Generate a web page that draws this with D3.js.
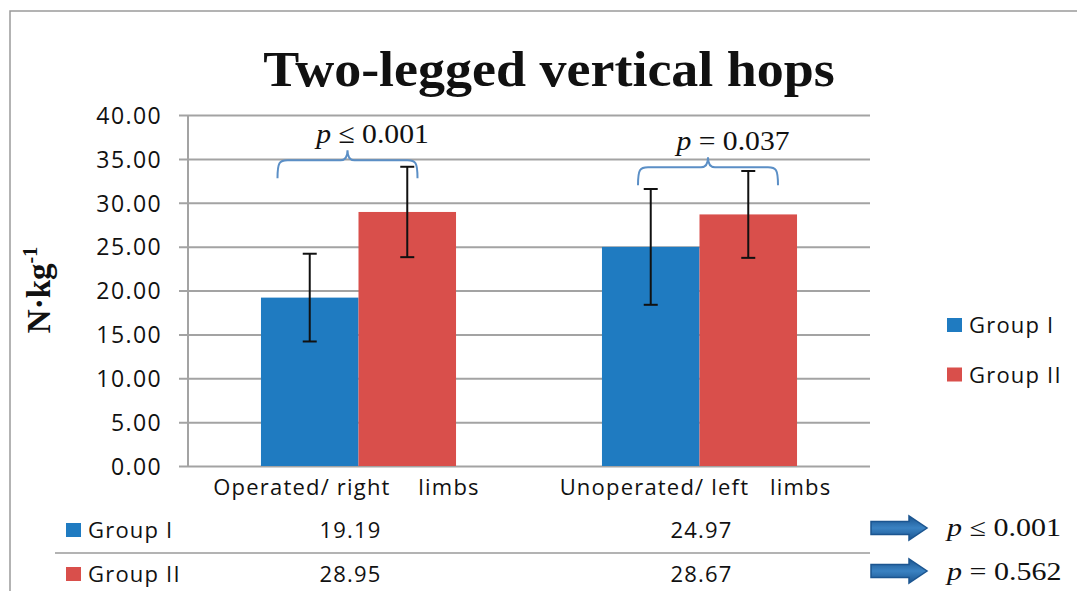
<!DOCTYPE html>
<html>
  <head>
    <meta charset="utf-8">
    <style type="text/css">
      body { margin: 0; background: #fff; }
      text { white-space: pre; }
      .sans { font-family: "Open Sans", sans-serif; font-size: 22px; letter-spacing: 1.2px; fill: #111; }
      .serif { font-family: "Liberation Serif", serif; fill: #111; }
    </style>
  </head>
  <body>
    <div id="chart"></div>

    <script type="text/javascript" src="https://cdn.jsdelivr.net/npm/d3@7/dist/d3.min.js"></script>
    <script type="text/javascript">
      // data
      var categories = ["Operated/ right    limbs", "Unoperated/ left   limbs"];
      var groups = ["Group I", "Group II"];
      var groupI = [19.19, 24.97];
      var groupII = [28.95, 28.67];
      var sdI = [5.0, 6.6];
      var sdII = [5.15, 4.95];
      var yTicks = [0, 5, 10, 15, 20, 25, 30, 35, 40];
      var pWithin = ["\u2264 0.001", "= 0.037"];   // group I vs II inside each limb
      var pBetween = ["\u2264 0.001", "= 0.562"];  // limb vs limb inside each group
      var colors = ["#1f7bc1", "#d94f4b"];

      (function () {
        var W = 1077, H = 591;
        var x0 = 188, x1 = 870, yTop = 115, yBot = 466;

        var svg = d3.select("#chart").append("svg")
          .attr("width", W).attr("height", H);

        var defs = svg.append("defs");
        var grad = defs.append("linearGradient").attr("id", "arrowGrad")
          .attr("x1", 0).attr("y1", 0).attr("x2", 0).attr("y2", 1);
        grad.append("stop").attr("offset", "0%").attr("stop-color", "#1b5590");
        grad.append("stop").attr("offset", "50%").attr("stop-color", "#3a82c2");
        grad.append("stop").attr("offset", "100%").attr("stop-color", "#1b5590");

        // outer frame
        svg.append("path").attr("d", "M10,591 L10,11 L1077,11")
          .attr("fill", "none").attr("stroke", "#9a9a9a").attr("stroke-width", 1.5);

        var x = d3.scaleBand().domain(categories).range([x0, x1]).padding(0);
        var xg = d3.scaleBand().domain(groups).range([0, x.bandwidth() * 0.572]);
        var y = d3.scaleLinear().domain([0, 40]).range([yBot, yTop]);

        var rows = categories.map(function (c, i) {
          return { cat: c, vals: [groupI[i], groupII[i]], sds: [sdI[i], sdII[i]] };
        });
        var barX = function (c, gi) {
          return x(c) + (x.bandwidth() - x.bandwidth() * 0.572) / 2 + xg(groups[gi]);
        };

        // gridlines + tick labels
        var axis = d3.axisLeft(y).tickValues(yTicks)
          .tickFormat(d3.format(".2f"))
          .tickSize(x1 - x0 + 9).tickSizeOuter(0).tickPadding(17);
        var ag = svg.append("g").attr("transform", "translate(" + x1 + ",0)").call(axis);
        ag.select(".domain").remove();
        ag.selectAll(".tick line").attr("stroke", "#a3a3a3").attr("stroke-width", 2);
        ag.selectAll(".tick text").attr("class", "sans").attr("dy", "0.36em")
          .style("font-size", "23px").style("letter-spacing", "1.4px").attr("fill", "#111");

        // y axis line
        svg.append("line").attr("x1", x0).attr("x2", x0).attr("y1", yTop).attr("y2", yBot)
          .attr("stroke", "#a3a3a3").attr("stroke-width", 2);

        // bars
        var bars = [];
        rows.forEach(function (r) {
          r.vals.forEach(function (v, gi) {
            bars.push({ cat: r.cat, gi: gi, v: v, sd: r.sds[gi] });
          });
        });
        svg.append("g").selectAll("rect").data(bars).enter().append("rect")
          .attr("x", function (d) { return barX(d.cat, d.gi); })
          .attr("width", xg.bandwidth())
          .attr("y", function (d) { return y(d.v); })
          .attr("height", function (d) { return y(0) - y(d.v); })
          .attr("fill", function (d) { return colors[d.gi]; });

        // error bars
        var eb = svg.append("g").attr("stroke", "#111").attr("stroke-width", 2);
        bars.forEach(function (d) {
          var cx = barX(d.cat, d.gi) + xg.bandwidth() / 2;
          eb.append("line").attr("x1", cx).attr("x2", cx)
            .attr("y1", y(d.v + d.sd)).attr("y2", y(d.v - d.sd));
          [d.v + d.sd, d.v - d.sd].forEach(function (e) {
            eb.append("line").attr("x1", cx - 7).attr("x2", cx + 7)
              .attr("y1", y(e)).attr("y2", y(e));
          });
        });

        // braces with p values
        var braceShift = [-11, 8.5], braceLevel = [34.85, 34.05];
        categories.forEach(function (c, i) {
          var mid = x(c) + x.bandwidth() / 2 + braceShift[i];
          var L = mid - 70, R = mid + 70;
          var hy = y(braceLevel[i]), ty = hy + 18, py = hy - 10;
          var d = "M" + L + "," + ty + " C" + L + "," + (hy + 2) + " " + (L + 2) + "," + hy + " " + (L + 10) + "," + hy +
            " L" + (mid - 7) + "," + hy + " C" + (mid - 2) + "," + hy + " " + mid + "," + (hy - 3) + " " + mid + "," + py +
            " C" + mid + "," + (hy - 3) + " " + (mid + 2) + "," + hy + " " + (mid + 7) + "," + hy +
            " L" + (R - 10) + "," + hy + " C" + (R - 2) + "," + hy + " " + R + "," + (hy + 2) + " " + R + "," + ty;
          svg.append("path").attr("d", d).attr("fill", "none")
            .attr("stroke", "#5b8fc6").attr("stroke-width", 2);
          var t = svg.append("text").attr("class", "serif")
            .attr("transform", "translate(" + (mid + 25) + "," + (py - 7) + ") scale(1.06,1)")
            .attr("text-anchor", "middle").style("font-size", "28px");
          t.append("tspan").style("font-style", "italic").text("p");
          t.append("tspan").text(" " + pWithin[i]);
        });

        // title
        svg.append("text").attr("class", "serif")
          .attr("transform", "translate(549,86) scale(1.08,1)")
          .attr("text-anchor", "middle")
          .style("font-size", "50px").style("font-weight", "bold")
          .text("Two-legged vertical hops");

        // y axis title
        var yt = svg.append("text").attr("class", "serif")
          .attr("transform", "translate(50,290) rotate(-90)")
          .attr("text-anchor", "middle")
          .style("font-size", "33px").style("font-weight", "bold");
        yt.append("tspan").text("N\u00b7kg");
        yt.append("tspan").attr("dy", -13).style("font-size", "20px").text("-1");

        // category labels
        svg.append("g").selectAll("text").data(categories).enter().append("text")
          .attr("class", "sans")
          .attr("x", function (d, i) { return x(d) + x.bandwidth() / 2 + (i === 0 ? -12 : -4); })
          .attr("y", 495)
          .attr("text-anchor", "middle")
          .text(function (d) { return d; });

        // legend on the right
        var lg = svg.append("g");
        groups.forEach(function (g, i) {
          var ly = 318 + i * 49.5;
          lg.append("rect").attr("x", 947).attr("y", ly).attr("width", 15).attr("height", 14)
            .attr("fill", colors[i]);
          lg.append("text").attr("class", "sans").attr("x", 969).attr("y", ly + 15).text(g);
        });

        // data table under the chart
        var tg = svg.append("g");
        var tableVals = [groupI, groupII];
        var rowBase = [538, 582];
        groups.forEach(function (g, i) {
          tg.append("rect").attr("x", 66).attr("y", rowBase[i] - 15).attr("width", 15).attr("height", 14)
            .attr("fill", colors[i]);
          tg.append("text").attr("class", "sans").attr("x", 88).attr("y", rowBase[i]).text(g);
          categories.forEach(function (c, j) {
            tg.append("text").attr("class", "sans")
              .attr("x", x(c) + x.bandwidth() / 2 + (j === 0 ? -8 : 2))
              .attr("y", rowBase[i]).attr("text-anchor", "middle")
              .text(d3.format(".2f")(tableVals[i][j]));
          });

          // arrow and p value between limbs
          var ay = rowBase[i] - 10 + (i === 1 ? -1 : 0);
          var ax = 871;
          var pts = [[ax, ay - 6.5], [ax + 38, ay - 6.5], [ax + 38, ay - 12], [ax + 56, ay],
                     [ax + 38, ay + 12], [ax + 38, ay + 6.5], [ax, ay + 6.5]];
          tg.append("polygon").attr("points", pts.map(function (p) { return p.join(","); }).join(" "))
            .attr("fill", "url(#arrowGrad)").attr("stroke", "#1b5590").attr("stroke-width", 1.5);
          var pt = tg.append("text").attr("class", "serif")
            .attr("transform", "translate(947," + (rowBase[i] - 2) + ") scale(1.2,1)")
            .style("font-size", "25px");
          pt.append("tspan").style("font-style", "italic").text("p");
          pt.append("tspan").text(" " + pBetween[i]);
        });
        tg.append("line").attr("x1", 55).attr("x2", 870).attr("y1", 553).attr("y2", 553)
          .attr("stroke", "#9a9a9a").attr("stroke-width", 1.5);
      })();
    </script>
  </body>
</html>
